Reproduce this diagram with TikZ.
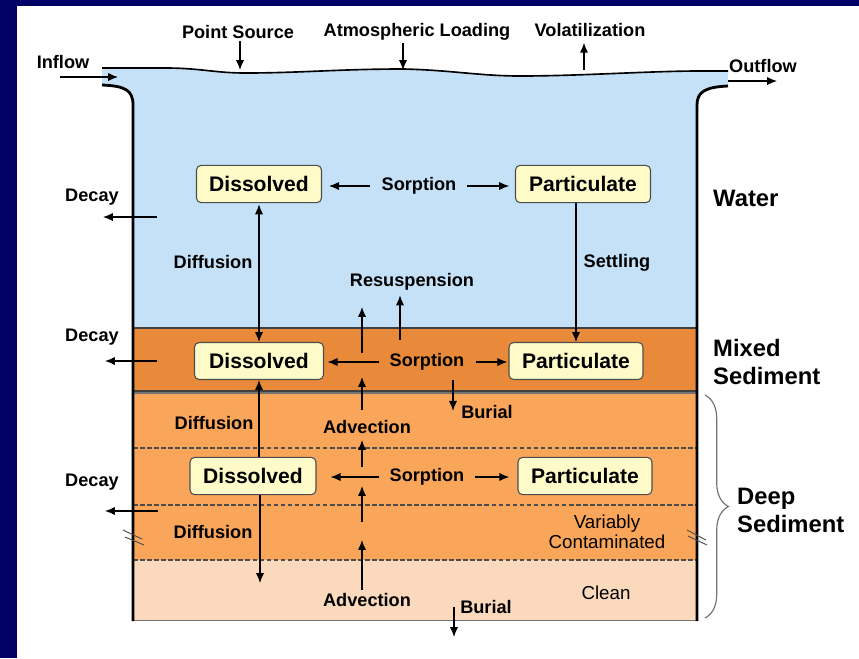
\documentclass[tikz,border=0pt]{standalone}
\usepackage{fontspec}
\setmainfont{Liberation Sans}
\usetikzlibrary{arrows.meta, decorations.pathreplacing}

\definecolor{navy}{RGB}{0,0,102}
\definecolor{waterblue}{RGB}{196,225,248}
\definecolor{mixedsed}{RGB}{233,137,58}
\definecolor{deepsed}{RGB}{250,166,90}
\definecolor{cleansed}{RGB}{251,217,188}
\definecolor{boxfill}{RGB}{255,251,200}

\begin{document}
\begin{tikzpicture}[x=0.03cm, y=-0.03cm, >={Latex[length=8.5pt, width=7pt]}, decoration={brace}]
\tikzstyle{state} = [rectangle, rounded corners=4pt, minimum height=1.12cm, draw=black!70, line width=0.9pt, fill=boxfill, font=\fontsize{18}{21}\selectfont\bfseries]
\tikzstyle{lbl} = [inner sep=0pt, font=\fontsize{15.5}{18}\selectfont\bfseries]
\tikzstyle{zone} = [inner sep=0pt, align=left, anchor=west, font=\fontsize{20.3}{24}\selectfont\bfseries]
\tikzstyle{depth} = [inner sep=0pt, align=center, font=\fontsize{16}{17}\selectfont]
\tikzstyle{flow} = [->, line width=0.9pt]
\tikzstyle{wall} = [line width=2.4pt]
\tikzstyle{level} = [draw=black!70, line width=0.9pt, dash pattern=on 4pt off 2pt]

\useasboundingbox (0,0) rectangle (859,658);
\fill[navy] (0,0) rectangle (859,658);
\fill[white] (17,6) rectangle (859,658);

% water body
\fill[waterblue] (102,68) -- (165,68) .. controls (200,68) and (215,73) .. (245,73) .. controls (300,73) and (340,69) .. (403,69) .. controls (450,70) and (480,76) .. (520,76) .. controls (580,76) and (650,71) .. (700,71) -- (728,71) -- (728,86) .. controls (705,87) and (697,92) .. (697,105) -- (697,328) -- (133,328) -- (133,105) .. controls (133,90) and (125,86) .. (102,85) -- cycle;

% sediment layers
\fill[deepsed] (133,392) rectangle (697,560);
\fill[cleansed] (133,560) rectangle (697,620);
\draw[level] (133,448) -- (697,448);
\draw[level] (133,505) -- (697,505);
\draw[level] (133,560) -- (697,560);
\draw[black!55, line width=0.8pt] (133,620) -- (697,620);
\draw[black!55, line width=1pt] (133,393) -- (697,393);
\filldraw[fill=mixedsed, draw=black!75, line width=1.8pt] (133,328) rectangle (697,391);

% surface and walls
\draw[line width=1.4pt] (102,68) -- (165,68) .. controls (200,68) and (215,73) .. (245,73) .. controls (300,73) and (340,69) .. (403,69) .. controls (450,70) and (480,76) .. (520,76) .. controls (580,76) and (650,71) .. (700,71) -- (728,71);
\draw[wall] (102,85) .. controls (125,86) and (133,90) .. (133,105) -- (133,621);
\draw[wall] (728,86) .. controls (705,87) and (697,92) .. (697,105) -- (697,621);
\draw[black!70, line width=0.8pt] (123,530) -- (142,539) (125,537) -- (144,545);
\draw[black!70, line width=0.8pt] (687,530) -- (706,540) (688,536) -- (707,545);

% boxes
\node[state, minimum width=3.75cm] (dissW) at (259,184) {Dissolved};
\node[state, minimum width=4.05cm] (partW) at (583,184) {Particulate};
\node[state, minimum width=3.87cm, minimum height=1.11cm] (dissM) at (259,361) {Dissolved};
\node[state, minimum width=4.02cm, minimum height=1.11cm] (partM) at (576,361) {Particulate};
\node[state, minimum width=3.78cm] (dissD) at (253,476) {Dissolved};
\node[state, minimum width=4.02cm] (partD) at (585,476) {Particulate};

% top labels
\node[lbl] (ps) at (238,32) {Point Source};
\node[lbl] (atm) at (417,32) {Atmospheric Loading};
\node[lbl] (vol) at (590,30) {Volatilization};
\node[lbl] (inflow) at (63,62) {Inflow};
\node[lbl] (outflow) at (763,66) {Outflow};
\coordinate (psIn) at (240,70);
\coordinate (atmIn) at (403,70);
\coordinate (volOut) at (584,70);
\coordinate (inStart) at (60,77);
\coordinate (inEnd) at (118,77);
\coordinate (outStart) at (728,81);
\coordinate (outEnd) at (777,81);
\draw[flow, shorten <=2pt] (psIn |- ps.south) -- (psIn);
\draw[flow, shorten <=2pt] (atmIn |- atm.south) -- (atmIn);
\draw[flow, shorten >=5pt] (volOut) -- (volOut |- vol.south);
\draw[flow] (inStart) -- (inEnd);
\draw[flow] (outStart) -- (outEnd);

% sorption
\node[lbl] (sorpW) at (419,186) {Sorption};
\node[lbl] (sorpM) at (427,362) {Sorption};
\node[lbl] (sorpD) at (427,477) {Sorption};
\draw[flow, shorten <=10pt, shorten >=6pt] (sorpW.west) -- (sorpW.west -| dissW.east);
\draw[flow, shorten <=9pt, shorten >=5pt] (sorpW.east) -- (sorpW.east -| partW.west);
\draw[flow, shorten <=8.5pt, shorten >=3pt] (sorpM.west) -- (sorpM.west -| dissM.east);
\draw[flow, shorten <=10pt, shorten >=1pt] (sorpM.east) -- (sorpM.east -| partM.west);
\draw[flow, shorten <=8.5pt, shorten >=12pt] (sorpD.west) -- (sorpD.west -| dissD.east);
\draw[flow, shorten <=9pt, shorten >=7pt] (sorpD.east) -- (sorpD.east -| partD.west);

% water column exchange
\node[lbl] (diffW) at (213,262) {Diffusion};
\node[lbl] (settle) at (617,263) {Settling};
\node[lbl] (resus) at (412,282) {Resuspension};
\draw[flow, <->, shorten <=1pt] (dissW.south) -- (dissM.north);
\draw[flow] (partW.south -| partM.north) -- (partM.north);
\coordinate (res1) at (362,353);
\coordinate (res1Tip) at (362,307);
\coordinate (res2) at (400,340);
\draw[flow] (res1) -- (res1Tip);
\draw[flow, shorten >=4pt] (res2) -- (res2 |- resus.south);

% sediment exchange
\node[lbl] (advU) at (367,427) {Advection};
\node[lbl] (advL) at (367,600) {Advection};
\node[lbl] (diffD1) at (214,423) {Diffusion};
\node[lbl] (diffD2) at (213,532) {Diffusion};
\coordinate (a1) at (362,590);
\coordinate (a2) at (362,540);
\coordinate (a3) at (362,522);
\coordinate (a4) at (362,486);
\coordinate (a5) at (362,467);
\coordinate (a6) at (362,440);
\coordinate (a7) at (362,410);
\coordinate (a8) at (362,377);
\draw[flow] (a1) -- (a2);
\draw[flow] (a3) -- (a4);
\draw[flow] (a5) -- (a6);
\draw[flow] (a7) -- (a8);
\draw[flow] (dissM.south |- dissD.north) -- (dissM.south);
\coordinate (diffEnd) at (260,583);
\draw[flow] (diffEnd |- dissD.south) -- (diffEnd);

% burial
\node[lbl] (burM) at (487,412) {Burial};
\node[lbl] (burD) at (486,607) {Burial};
\coordinate (burMTop) at (453,380);
\coordinate (burDEnd) at (454,637);
\draw[flow, shorten >=1pt] (burMTop) -- (burMTop |- burM);
\draw[flow] (burDEnd |- burD) -- (burDEnd);

% decay
\node[lbl] (decW) at (92,197) {Decay};
\node[lbl] (decM) at (92,337) {Decay};
\node[lbl] (decD) at (92,482) {Decay};
\coordinate (decW1) at (157,217);
\coordinate (decW2) at (103,217);
\coordinate (decM1) at (157,361);
\coordinate (decM2) at (105,361);
\coordinate (decD1) at (158,511);
\coordinate (decD2) at (105,511);
\draw[flow] (decW1) -- (decW2);
\draw[flow] (decM1) -- (decM2);
\draw[flow] (decD1) -- (decD2);

% zone names
\node[zone] (water) at (713,198) {Water};
\node[zone] (mixed) at (713,362) {Mixed\\Sediment};
\node[zone] (deep) at (737,510) {Deep\\Sediment};
\node[depth] (varcon) at (607,532) {Variably\\Contaminated};
\node[depth] (clean) at (606,593) {Clean};
\draw[decorate, decoration={brace, amplitude=20pt}, black!55, line width=1pt] (705,395) -- (705,618);

\end{tikzpicture}
\end{document}
